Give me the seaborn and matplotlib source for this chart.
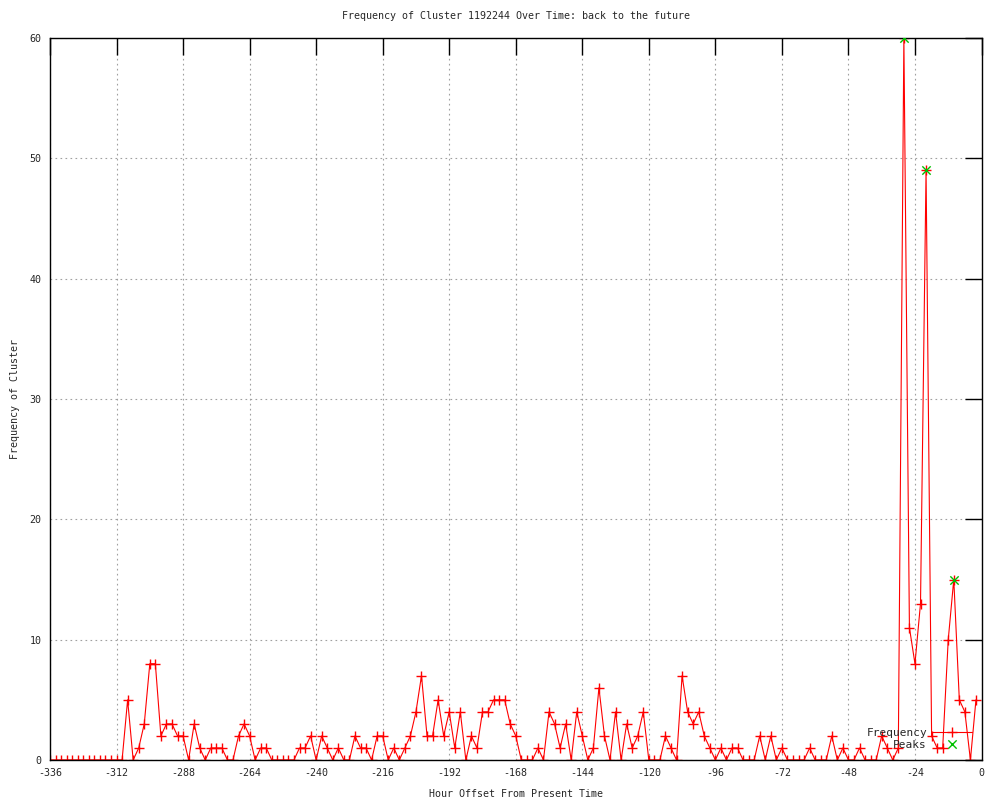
import matplotlib
matplotlib.use("Agg")
import matplotlib.pyplot as plt
import numpy as np
import pandas as pd
import seaborn as sns

# hour offsets, one sample every 2 hours from -336 up to -2
hours = np.arange(-336, 0, 2)
freq = [
    0, 0, 0, 0, 0, 0, 0, 0, 0, 0, 0, 0, 0, 0,
    5, 0, 1, 3, 8, 8, 2, 3, 3, 2, 2, 0, 3, 1, 0,
    1, 1, 1, 0, 0, 2, 3, 2, 0, 1, 1, 0, 0, 0, 0, 0, 1, 1, 2, 0, 2, 1, 0, 1, 0, 0, 2, 1, 1,
    0, 2, 2, 0, 1, 0, 1, 2, 4, 7, 2, 2, 5, 2, 4, 1, 4, 0, 2, 1, 4, 4, 5, 5, 5, 3, 2, 0, 0,
    0, 1, 0, 4, 3, 1, 3, 0, 4, 2, 0, 1, 6, 2, 0, 4, 0, 3, 1, 2, 4, 0, 0, 0, 2, 1, 0, 7, 4,
    3, 4, 2, 1, 0, 1, 0, 1, 1, 0, 0, 0, 2, 0, 2, 0, 1, 0, 0, 0, 0, 1, 0, 0, 0, 2, 0, 1, 0,
    0, 1, 0, 0, 0, 2, 1, 0, 1, 60, 11, 8, 13, 49, 2, 1, 1, 10, 15, 5, 4, 0, 5,
]
peak_hours = [-28, -20, -10]
peak_vals = [60, 49, 15]

x_ticks = list(range(-336, 1, 24))
y_ticks = list(range(0, 61, 10))

df = pd.DataFrame({"hour": hours, "freq": freq})
peaks = pd.DataFrame({"hour": peak_hours, "freq": peak_vals})

sns.set_style("white")
plt.rcParams["font.family"] = ["DejaVu Sans Mono"]
plt.rcParams["axes.unicode_minus"] = False
fs = 7.2

fig = plt.figure(figsize=(10, 8), dpi=100)
ax = fig.add_axes([0.050, 0.05, 0.9315, 0.9025])

ax.grid(True, color="#a0a0a0", linestyle=(0, (1.5, 3)), linewidth=0.8)
ax.set_axisbelow(True)

sns.lineplot(data=df, x="hour", y="freq", ax=ax, color="red", lw=0.8,
             marker="+", markersize=6.5, markeredgewidth=1.0,
             markeredgecolor="red", markerfacecolor="red", label="Frequency")
sns.scatterplot(data=peaks, x="hour", y="freq", ax=ax, color="#00c000",
                marker="x", s=36, linewidth=1.0, label="Peaks", zorder=3)

ax.set_xlim(-336, 0)
ax.set_ylim(0, 60)
ax.set_xticks(x_ticks)
ax.set_yticks(y_ticks)
ax.tick_params(direction="in", length=12, width=1, top=True, right=True,
               labelsize=fs, pad=6, color="black")
for s in ax.spines.values():
    s.set_color("black")
    s.set_linewidth(1)

ax.set_title("Frequency of Cluster 1192244 Over Time: back to the future",
             fontsize=fs, pad=14)
ax.set_xlabel("Hour Offset From Present Time", fontsize=fs, labelpad=8)
ax.set_ylabel("Frequency of Cluster", fontsize=fs, labelpad=7)

ax.legend(loc="lower right", frameon=False, markerfirst=False, fontsize=fs + 0.8,
          handlelength=3.6, labelspacing=0.2, borderaxespad=0.5, handletextpad=0.4,
          scatterpoints=1, scatteryoffsets=[0.5])

fig.savefig("out.png", dpi=100)
